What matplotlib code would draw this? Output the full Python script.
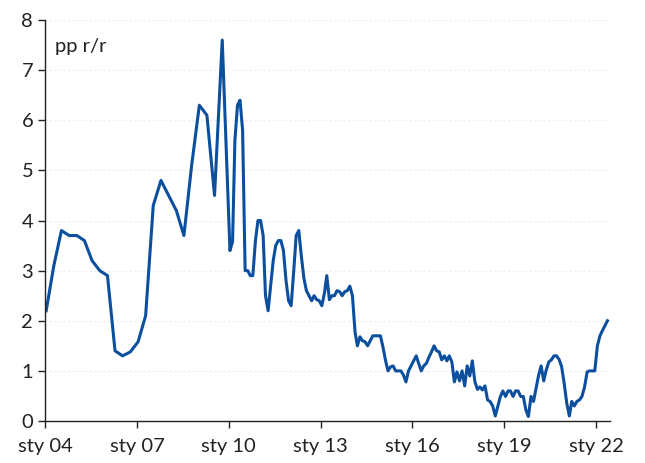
import matplotlib
matplotlib.use("Agg")
import matplotlib.pyplot as plt
import pandas as pd

# quarterly readings 2004-01 .. 2009-10
quarterly_start = "2004-01-01"
quarterly_values = [2.2, 3.1, 3.8, 3.7, 3.7, 3.6, 3.2, 3.0, 2.9, 1.4, 1.3, 1.38,
                    1.58, 2.1, 4.3, 4.8, 4.5, 4.2, 3.7, 5.1, 6.3, 6.1, 4.5, 7.6]

# monthly readings 2010-01 .. 2022-05
monthly_start = "2010-01-01"
monthly_values = [
    3.4, 3.58, 5.6, 6.3, 6.4, 5.8, 3.0, 3.0, 2.9, 2.9, 3.6, 4.0,        # 2010
    4.0, 3.7, 2.5, 2.2, 2.7, 3.2, 3.5, 3.6, 3.6, 3.4, 2.8, 2.4,         # 2011
    2.3, 3.0, 3.7, 3.8, 3.3, 2.85, 2.6, 2.5, 2.4, 2.5, 2.42, 2.4,       # 2012
    2.3, 2.55, 2.9, 2.42, 2.5, 2.5, 2.6, 2.58, 2.5, 2.58, 2.6, 2.69,    # 2013
    2.5, 1.78, 1.5, 1.68, 1.6, 1.58, 1.5, 1.6, 1.7, 1.7, 1.7, 1.7,      # 2014
    1.47, 1.2, 1.0, 1.08, 1.1, 1.0, 1.0, 1.0, 0.92, 0.78, 1.0, 1.1,     # 2015
    1.2, 1.3, 1.15, 1.0, 1.1, 1.15, 1.27, 1.38, 1.5, 1.4, 1.38, 1.22,   # 2016
    1.3, 1.2, 1.3, 1.18, 0.78, 0.98, 0.8, 1.0, 0.7, 1.1, 0.9, 1.2,      # 2017
    0.78, 0.63, 0.68, 0.62, 0.7, 0.42, 0.39, 0.3, 0.1, 0.29, 0.49, 0.6, # 2018
    0.49, 0.6, 0.6, 0.49, 0.6, 0.6, 0.49, 0.49, 0.22, 0.09, 0.49, 0.39, # 2019
    0.65, 0.92, 1.1, 0.8, 1.02, 1.18, 1.22, 1.3, 1.3, 1.23, 1.08, 0.75, # 2020
    0.35, 0.1, 0.39, 0.3, 0.39, 0.42, 0.49, 0.68, 0.98, 1.0, 1.0, 1.0,  # 2021
    1.5, 1.7, 1.8, 1.9, 2.0,                                            # 2022
]

tick_years = [2004, 2007, 2010, 2013, 2016, 2019, 2022]
tick_labels = ["sty 04", "sty 07", "sty 10", "sty 13", "sty 16", "sty 19", "sty 22"]

# points sit mid-month
q_dates = pd.date_range(quarterly_start, periods=len(quarterly_values), freq="3MS") + pd.Timedelta(days=14)
m_dates = pd.date_range(monthly_start, periods=len(monthly_values), freq="MS") + pd.Timedelta(days=14)
dates = list(q_dates) + list(m_dates)
values = quarterly_values + monthly_values

plt.rcParams['font.family'] = ['Lato', 'DejaVu Sans']

fig = plt.figure(figsize=(6.45, 4.63), dpi=100)
ax = fig.add_axes([0.0698, 0.0907, 0.876, 0.866])

ax.plot(dates, values, color='#0b4f9e', lw=2.2, solid_joinstyle='round')

ax.set_ylim(0, 8)
ax.set_xlim(pd.Timestamp("2004-01-01"), pd.Timestamp("2022-06-15"))
ax.set_yticks(range(0, 9))
ax.set_xticks([pd.Timestamp(f"{y}-01-01") for y in tick_years])
ax.set_xticklabels(tick_labels)

ax.grid(axis='y', color='#ececec', linestyle=(0, (2, 2)), lw=0.8)
ax.set_axisbelow(True)
for s in ['top', 'right']:
    ax.spines[s].set_visible(False)
for s in ['left', 'bottom']:
    ax.spines[s].set_color('#222222')
    ax.spines[s].set_linewidth(1.0)
ax.tick_params(axis='both', labelsize=14.5, colors='#222222', length=5, width=1.0)
ax.tick_params(axis='x', pad=7)

ax.text(0.018, 0.935, "pp r/r", transform=ax.transAxes, fontsize=14.5, color='#222222', va='center')

fig.savefig("out.png", dpi=100)
